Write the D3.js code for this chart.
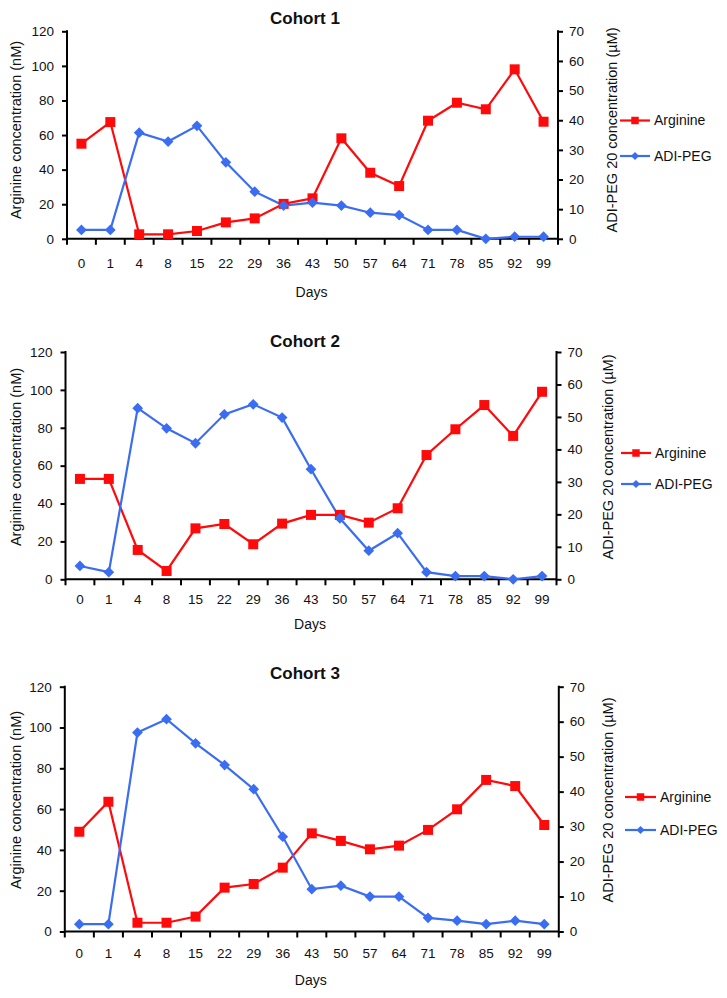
<!DOCTYPE html>
<html>
<head>
<meta charset="utf-8">
<script src="https://cdn.jsdelivr.net/npm/d3@7"></script>
<style>
  html, body { margin: 0; padding: 0; background: #fff; }
  svg { display: block; }
  text { font-family: "Liberation Sans", Arial, Helvetica, sans-serif; fill: #111; }
</style>
</head>
<body>
<svg id="chart" width="727" height="998"></svg>
<script>
// ---------------- DATA ----------------
const days = ["0","1","4","8","15","22","29","36","43","50","57","64","71","78","85","92","99"];
const arginineTicks = [0, 20, 40, 60, 80, 100, 120];
const adiTicks = [0, 10, 20, 30, 40, 50, 60, 70];
const seriesNames = ["Arginine", "ADI-PEG"];
const cohortTitles = ["Cohort 1", "Cohort 2", "Cohort 3"];

const arginine1 = [55, 67.5, 2.6, 2.6, 4.5, 9.5, 11.8, 20.2, 23.4, 58.1, 38.2, 30.5, 68.3, 78.7, 74.9, 98, 67.7];
const adipeg1   = [3, 3, 35.8, 32.8, 38.1, 25.8, 15.9, 11.2, 12.2, 11.2, 8.8, 8.0, 3, 3, 0, 0.7, 0.7];

const arginine2 = [53, 53, 15.5, 4.4, 26.9, 29.2, 18.5, 29.4, 34, 34, 29.9, 37.5, 65.6, 79.2, 92, 75.7, 99];
const adipeg2   = [4.1, 2.2, 52.7, 46.5, 41.9, 50.8, 53.9, 49.8, 33.9, 18.8, 8.8, 14.2, 2.2, 1.0, 1.0, 0, 1.0];

const arginine3 = [48.9, 63.6, 4.3, 4.3, 7.3, 21.5, 23.3, 31.3, 48.1, 44.4, 40.3, 42.1, 49.8, 59.9, 74.3, 71.3, 52.2];
const adipeg3   = [2.1, 2.1, 56.9, 60.7, 53.8, 47.6, 40.7, 27.1, 12.1, 13.1, 10, 10, 3.9, 3.1, 2.1, 3.1, 2.1];

const arginineSeries = [arginine1, arginine2, arginine3];
const adiSeries = [adipeg1, adipeg2, adipeg3];

// ---------------- LAYOUT ----------------
const panels = [
  { left: 67,   right: 558,   top: 31.3,  bottom: 238.8, titleY: 18.5,  tickY: 263.5, daysY: 292,   legX1: 620, legX2: 650, legTx: 654, legY: [120.5, 156], labelC: 130, rLabelX: 612 },
  { left: 65.5, right: 556.5, top: 352,   bottom: 579.3, titleY: 341,   tickY: 599.5, daysY: 624.5, legX1: 621, legX2: 651, legTx: 655, legY: [453, 484],   labelC: 457, rLabelX: 608 },
  { left: 64.8, right: 558.8, top: 686.7, bottom: 931.5, titleY: 673,   tickY: 953.5, daysY: 980,   legX1: 625, legX2: 656, legTx: 660, legY: [797, 830],   labelC: 800, rLabelX: 608 }
];

const RED = "#ff0a0a";
const BLUE = "#3b6df2";
const svg = d3.select("#chart");

const squareSym = d3.symbol().type(d3.symbolSquare).size(100);
const diamondSym = d3.symbol().type(d3.symbolSquare).size(58);
const squareLeg = d3.symbol().type(d3.symbolSquare).size(56);
const diamondLeg = d3.symbol().type(d3.symbolSquare).size(34);

panels.forEach((p, i) => {
  const g = svg.append("g");
  const x = d3.scaleBand().domain(days).range([p.left, p.right]);
  const cx = d => x(d) + x.bandwidth() / 2;
  const yL = d3.scaleLinear().domain([0, 120]).range([p.bottom, p.top]);
  const yR = d3.scaleLinear().domain([0, 70]).range([p.bottom, p.top]);

  // Title
  g.append("text").attr("x", 305).attr("y", p.titleY).attr("dy", "0.35em")
    .attr("text-anchor", "middle").attr("font-weight", "bold").attr("font-size", 17)
    .text(cohortTitles[i]);

  // Left axis
  const axL = g.append("g").attr("transform", `translate(${p.left},0)`)
    .call(d3.axisLeft(yL).tickValues(arginineTicks).tickSize(5).tickSizeOuter(0).tickPadding(8));
  // Right axis
  const axR = g.append("g").attr("transform", `translate(${p.right},0)`)
    .call(d3.axisRight(yR).tickValues(adiTicks).tickSize(5).tickSizeOuter(0).tickPadding(6));
  // Bottom axis (labels only; ticks at category boundaries)
  const axB = g.append("g").attr("transform", `translate(0,${p.bottom})`)
    .call(d3.axisBottom(x).tickSize(0).tickSizeOuter(0).tickPadding(0));
  axB.selectAll(".tick text").attr("y", p.tickY - p.bottom).attr("dy", "0.35em");
  const bounds = days.map(d => x(d)).concat([p.right]);
  axB.selectAll("line.bnd").data(bounds).enter().append("line").attr("class", "bnd")
    .attr("x1", d => d).attr("x2", d => d).attr("y1", 0).attr("y2", 6)
    .attr("stroke", "#000").attr("stroke-width", 2);

  [axL, axR, axB].forEach(a => {
    a.select(".domain").attr("stroke", "#000").attr("stroke-width", 2);
    a.selectAll(".tick line").attr("stroke", "#000").attr("stroke-width", 2);
    a.selectAll(".tick text").attr("font-size", 13.5).attr("fill", "#111")
      .attr("font-family", '"Liberation Sans", Arial, sans-serif');
  });
  axL.select(".domain").attr("d", `M0,${p.top - 1}V${p.bottom + 1}`);
  axR.select(".domain").attr("d", `M0,${p.top - 1}V${p.bottom + 1}`);
  axB.select(".domain").attr("d", `M${p.left},0H${p.right}`);

  // Axis titles
  g.append("text").attr("transform", `translate(16,${p.labelC}) rotate(-90)`)
    .attr("text-anchor", "middle").attr("dy", "0.35em").attr("font-size", 14.5)
    .text("Arginine concentration (nM)");
  g.append("text").attr("transform", `translate(${p.rLabelX},${p.labelC}) rotate(-90)`)
    .attr("text-anchor", "middle").attr("dy", "0.35em").attr("font-size", 14.5)
    .text("ADI-PEG 20 concentration (µM)");
  g.append("text").attr("x", (p.left + p.right) / 2 - 1).attr("y", p.daysY).attr("dy", "0.35em")
    .attr("text-anchor", "middle").attr("font-size", 14).text("Days");

  // Series lines
  const argData = days.map((d, k) => ({ d, v: arginineSeries[i][k] }));
  const adiData = days.map((d, k) => ({ d, v: adiSeries[i][k] }));

  g.append("path").datum(argData)
    .attr("d", d3.line().x(o => cx(o.d)).y(o => yL(o.v)))
    .attr("fill", "none").attr("stroke", RED).attr("stroke-width", 2.2);
  g.append("path").datum(adiData)
    .attr("d", d3.line().x(o => cx(o.d)).y(o => yR(o.v)))
    .attr("fill", "none").attr("stroke", BLUE).attr("stroke-width", 2.2);

  g.selectAll("path.sq").data(argData).enter().append("path").attr("class", "sq")
    .attr("transform", o => `translate(${cx(o.d)},${yL(o.v)})`)
    .attr("d", squareSym).attr("fill", RED);
  g.selectAll("path.dm").data(adiData).enter().append("path").attr("class", "dm")
    .attr("transform", o => `translate(${cx(o.d)},${yR(o.v)}) rotate(45)`)
    .attr("d", diamondSym).attr("fill", BLUE);

  // Legend
  const colors = [RED, BLUE];
  const syms = [squareLeg, diamondLeg];
  const rots = [0, 45];
  seriesNames.forEach((name, k) => {
    const ly = p.legY[k];
    g.append("line").attr("x1", p.legX1).attr("x2", p.legX2).attr("y1", ly).attr("y2", ly)
      .attr("stroke", colors[k]).attr("stroke-width", 2.2);
    g.append("path").attr("transform", `translate(${(p.legX1 + p.legX2) / 2},${ly}) rotate(${rots[k]})`)
      .attr("d", syms[k]).attr("fill", colors[k]);
    g.append("text").attr("x", p.legTx).attr("y", ly).attr("dy", "0.35em")
      .attr("font-size", 14).text(name);
  });
});
</script>
</body>
</html>
